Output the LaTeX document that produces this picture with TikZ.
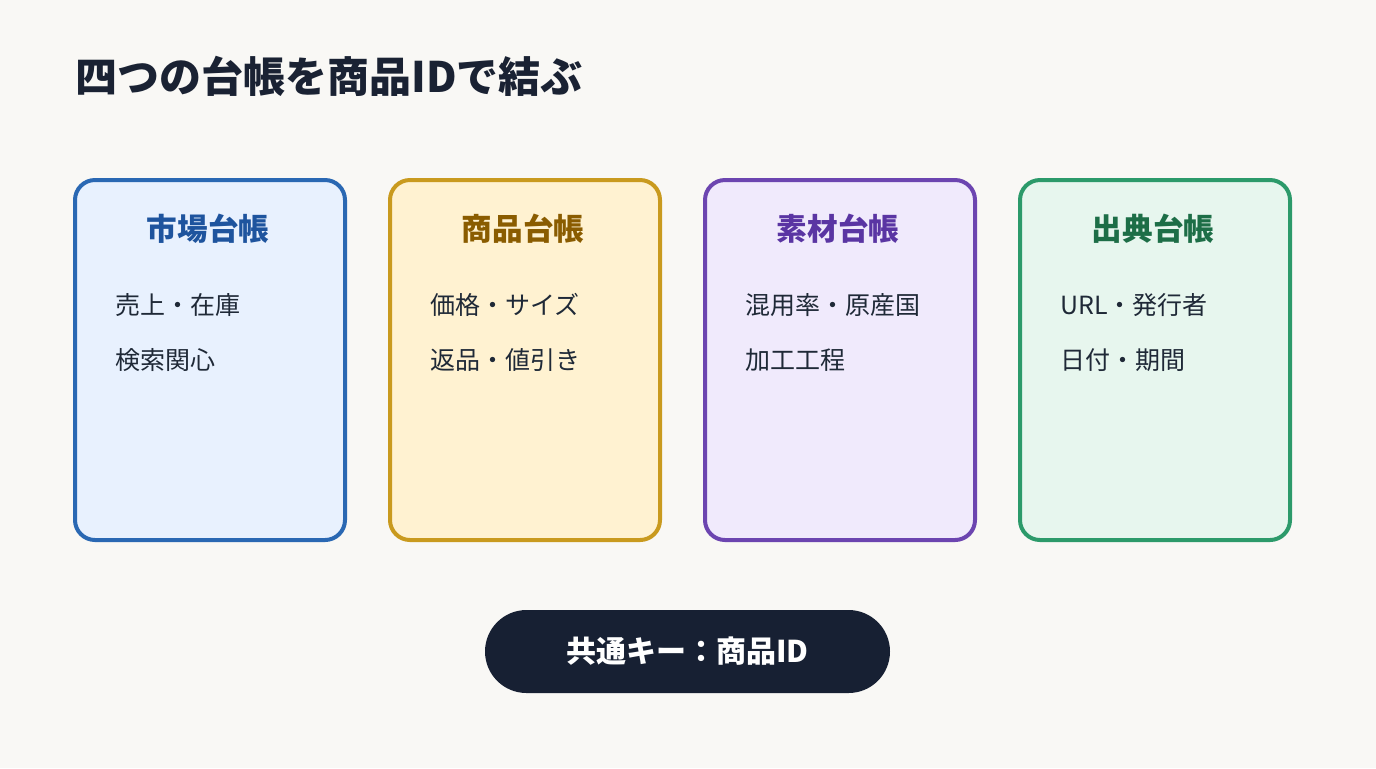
\documentclass[tikz,border=0pt]{standalone}
\usepackage{fontspec}
\setmainfont{Noto Sans CJK JP}
\usepackage{tikz}
\usetikzlibrary{positioning, shapes}
\definecolor{bgcol}{HTML}{F9F8F5}
\definecolor{inkcol}{HTML}{1A2233}
\definecolor{itemcol}{HTML}{1F2937}
\definecolor{pillcol}{HTML}{172033}
\definecolor{mktline}{HTML}{2A68B3}
\definecolor{mktfill}{HTML}{E8F1FE}
\definecolor{mkttext}{HTML}{1E549E}
\definecolor{prdline}{HTML}{C99A1E}
\definecolor{prdfill}{HTML}{FFF2D1}
\definecolor{prdtext}{HTML}{8A5C00}
\definecolor{matline}{HTML}{6C45B0}
\definecolor{matfill}{HTML}{F0EAFC}
\definecolor{mattext}{HTML}{5A35A3}
\definecolor{srcline}{HTML}{2C9A6A}
\definecolor{srcfill}{HTML}{E7F6EE}
\definecolor{srctext}{HTML}{1D6E47}
\tikzset{
    card/.style={draw, line width=2pt, rounded corners=10pt, minimum width=135pt, minimum height=180pt}, % the four ledger boxes
    cardtitle/.style={font=\bfseries\fontsize{15.3pt}{18pt}\selectfont}, % heading inside a box
    item/.style={anchor=west, text=itemcol, font=\fontsize{12.5pt}{15pt}\selectfont, inner sep=0pt}, % one line of contents
    keypill/.style={fill=pillcol, text=white, rounded corners=20.75pt, minimum width=202.5pt, minimum height=41.5pt, font=\bfseries\fontsize{15pt}{18pt}\selectfont}, % the shared key at the bottom
}

\begin{document}
\begin{tikzpicture}[x=0.5pt, y=-0.5pt]
            \fill[bgcol] (0,0) rectangle (1376,768);
            \useasboundingbox (0,0) rectangle (1376,768);

            \node[anchor=west, text=inkcol, font=\bfseries\fontsize{21pt}{25pt}\selectfont, inner sep=0pt] (title) at (75,76) {四つの台帳を商品IDで結ぶ};

            \node[card, draw=mktline, fill=mktfill] (market) at (210,360) {};
            \node[card, draw=prdline, fill=prdfill] (product) at (525,360) {};
            \node[card, draw=matline, fill=matfill] (material) at (840,360) {};
            \node[card, draw=srcline, fill=srcfill] (source) at (1155,360) {};

            \node[cardtitle, text=mkttext] (markettitle) at (208,229) {市場台帳};
            \node[cardtitle, text=prdtext] (producttitle) at (523,229) {商品台帳};
            \node[cardtitle, text=mattext] (materialtitle) at (838,229) {素材台帳};
            \node[cardtitle, text=srctext] (sourcetitle) at (1153,229) {出典台帳};

            \node[item] (m1) at (115,305) {売上・在庫};
            \node[item] (m2) at (115,360) {検索関心};
            \node[item] (p1) at (430,305) {価格・サイズ};
            \node[item] (p2) at (430,360) {返品・値引き};
            \node[item] (t1) at (745,305) {混用率・原産国};
            \node[item] (t2) at (745,360) {加工工程};
            \node[item] (s1) at (1060,305) {URL・発行者};
            \node[item] (s2) at (1060,360) {日付・期間};

            \node[keypill] (key) at (687.5,651.5) {共通キー：商品ID};
        \end{tikzpicture}
\end{document}
